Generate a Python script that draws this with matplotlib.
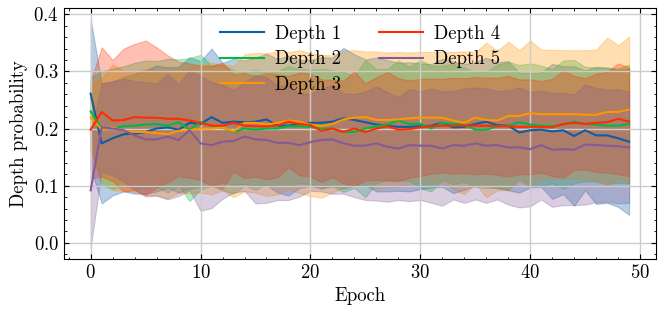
import numpy as np
import matplotlib
matplotlib.use("Agg")
import matplotlib.pyplot as plt

# per-epoch mean and std of depth probability
epochs = np.arange(50)

depth1_mean = [0.261, 0.174, 0.183, 0.190, 0.191, 0.194, 0.200, 0.202, 0.198, 0.210,
               0.208, 0.220, 0.210, 0.212, 0.211, 0.212, 0.216, 0.205, 0.205, 0.208,
               0.210, 0.210, 0.212, 0.218, 0.215, 0.211, 0.207, 0.205, 0.203, 0.203,
               0.204, 0.205, 0.210, 0.202, 0.203, 0.208, 0.212, 0.206, 0.205, 0.193,
               0.197, 0.198, 0.195, 0.197, 0.187, 0.197, 0.188, 0.188, 0.183, 0.177]
depth2_mean = [0.230, 0.200, 0.200, 0.204, 0.205, 0.207, 0.208, 0.205, 0.211, 0.198,
               0.211, 0.205, 0.202, 0.194, 0.200, 0.198, 0.200, 0.200, 0.204, 0.204,
               0.203, 0.200, 0.200, 0.194, 0.194, 0.200, 0.204, 0.207, 0.214, 0.208,
               0.208, 0.200, 0.210, 0.208, 0.207, 0.198, 0.198, 0.204, 0.205, 0.211,
               0.207, 0.205, 0.204, 0.207, 0.212, 0.208, 0.207, 0.205, 0.205, 0.208]
depth3_mean = [0.220, 0.198, 0.202, 0.196, 0.194, 0.194, 0.192, 0.190, 0.196, 0.197,
               0.200, 0.200, 0.202, 0.195, 0.210, 0.210, 0.207, 0.210, 0.214, 0.212,
               0.207, 0.204, 0.208, 0.216, 0.219, 0.220, 0.215, 0.215, 0.216, 0.218,
               0.219, 0.219, 0.219, 0.214, 0.210, 0.219, 0.215, 0.214, 0.222, 0.222,
               0.227, 0.225, 0.225, 0.225, 0.225, 0.224, 0.224, 0.229, 0.229, 0.233]
depth4_mean = [0.198, 0.229, 0.214, 0.215, 0.220, 0.219, 0.219, 0.217, 0.217, 0.214,
               0.210, 0.205, 0.205, 0.210, 0.205, 0.204, 0.204, 0.205, 0.212, 0.208,
               0.206, 0.196, 0.200, 0.194, 0.200, 0.194, 0.200, 0.204, 0.198, 0.199,
               0.202, 0.204, 0.205, 0.205, 0.205, 0.205, 0.205, 0.204, 0.204, 0.203,
               0.203, 0.203, 0.202, 0.208, 0.210, 0.208, 0.210, 0.211, 0.217, 0.212]
depth5_mean = [0.092, 0.202, 0.200, 0.197, 0.188, 0.181, 0.181, 0.186, 0.180, 0.197,
               0.174, 0.171, 0.177, 0.178, 0.186, 0.181, 0.180, 0.175, 0.175, 0.171,
               0.176, 0.180, 0.181, 0.174, 0.170, 0.170, 0.174, 0.168, 0.165, 0.171,
               0.170, 0.170, 0.165, 0.171, 0.170, 0.174, 0.170, 0.171, 0.167, 0.167,
               0.164, 0.171, 0.163, 0.164, 0.163, 0.172, 0.171, 0.170, 0.169, 0.167]

depth1_std = [0.130, 0.105, 0.100, 0.100, 0.105, 0.108, 0.110, 0.105, 0.110, 0.115,
              0.110, 0.120, 0.105, 0.110, 0.108, 0.112, 0.115, 0.117, 0.122, 0.112,
              0.110, 0.115, 0.112, 0.123, 0.115, 0.110, 0.117, 0.115, 0.112, 0.113,
              0.110, 0.108, 0.112, 0.115, 0.110, 0.108, 0.112, 0.110, 0.113, 0.105,
              0.100, 0.100, 0.118, 0.112, 0.122, 0.105, 0.120, 0.118, 0.120, 0.128]
depth2_std = [0.060, 0.100, 0.105, 0.105, 0.110, 0.112, 0.110, 0.117, 0.110, 0.125,
              0.118, 0.105, 0.110, 0.108, 0.100, 0.105, 0.098, 0.100, 0.105, 0.100,
              0.100, 0.104, 0.102, 0.105, 0.098, 0.120, 0.100, 0.097, 0.105, 0.100,
              0.112, 0.110, 0.100, 0.105, 0.100, 0.100, 0.102, 0.108, 0.112, 0.100,
              0.107, 0.105, 0.100, 0.112, 0.108, 0.100, 0.100, 0.102, 0.100, 0.104]
depth3_std = [0.060, 0.090, 0.110, 0.105, 0.105, 0.110, 0.110, 0.112, 0.108, 0.110,
              0.112, 0.115, 0.110, 0.115, 0.120, 0.122, 0.125, 0.125, 0.120, 0.125,
              0.125, 0.125, 0.120, 0.120, 0.118, 0.115, 0.120, 0.118, 0.118, 0.115,
              0.115, 0.115, 0.115, 0.120, 0.125, 0.115, 0.135, 0.122, 0.130, 0.115,
              0.127, 0.113, 0.113, 0.112, 0.112, 0.113, 0.114, 0.130, 0.117, 0.128]
depth4_std = [0.085, 0.113, 0.106, 0.125, 0.128, 0.135, 0.123, 0.111, 0.100, 0.100,
              0.100, 0.105, 0.110, 0.085, 0.092, 0.088, 0.093, 0.090, 0.080, 0.090,
              0.090, 0.090, 0.085, 0.090, 0.100, 0.085, 0.090, 0.095, 0.090, 0.085,
              0.085, 0.083, 0.082, 0.084, 0.083, 0.085, 0.084, 0.085, 0.088, 0.083,
              0.083, 0.080, 0.085, 0.094, 0.082, 0.080, 0.086, 0.088, 0.097, 0.095]
depth5_std = [0.100, 0.077, 0.082, 0.090, 0.095, 0.100, 0.098, 0.110, 0.098, 0.105,
              0.118, 0.110, 0.100, 0.090, 0.095, 0.112, 0.110, 0.100, 0.100, 0.090,
              0.085, 0.090, 0.095, 0.088, 0.090, 0.095, 0.100, 0.096, 0.090, 0.098,
              0.095, 0.100, 0.100, 0.095, 0.100, 0.098, 0.100, 0.095, 0.100, 0.105,
              0.100, 0.095, 0.100, 0.098, 0.097, 0.105, 0.100, 0.098, 0.100, 0.097]

labels = ['Depth 1', 'Depth 2', 'Depth 3', 'Depth 4', 'Depth 5']
means = [depth1_mean, depth2_mean, depth3_mean, depth4_mean, depth5_mean]
stds = [depth1_std, depth2_std, depth3_std, depth4_std, depth5_std]
colors = ['#0C5DA5', '#00B945', '#FF9500', '#FF2C00', '#845B97']

plt.rcParams.update({
    'font.family': 'serif',
    'font.serif': ['cmr10', 'DejaVu Serif'],
    'mathtext.fontset': 'cm',
    'axes.formatter.use_mathtext': True,
    'font.size': 13.5,
    'xtick.direction': 'in',
    'ytick.direction': 'in',
    'xtick.top': True,
    'ytick.right': True,
    'xtick.minor.visible': True,
    'ytick.minor.visible': True,
    'xtick.major.size': 3.5,
    'ytick.major.size': 3.5,
    'xtick.minor.size': 1.8,
    'ytick.minor.size': 1.8,
    'xtick.major.width': 0.8,
    'ytick.major.width': 0.8,
    'xtick.minor.width': 0.6,
    'ytick.minor.width': 0.6,
    'axes.linewidth': 0.8,
})

fig, ax = plt.subplots(figsize=(6.64, 3.18), dpi=100)
fig.subplots_adjust(left=0.096, right=0.988, top=0.975, bottom=0.186)

for m, s, c, lab in zip(means, stds, colors, labels):
    m = np.array(m)
    s = np.array(s)
    ax.plot(epochs, m, color=c, lw=1.5, label=lab)
    ax.fill_between(epochs, m - s, m + s, color=c, alpha=0.3, lw=0.8)

ax.grid(True, color='0.8', lw=1)
ax.set_xlabel('Epoch')
ax.set_ylabel('Depth probability')
ax.set_xticks([0, 10, 20, 30, 40, 50])
ax.set_yticks([0.0, 0.1, 0.2, 0.3, 0.4])
ax.legend(loc='upper center', ncol=2, frameon=False, columnspacing=2.0,
          handlelength=2.35, handletextpad=0.6, labelspacing=0.4)

fig.savefig('out.png', dpi=100)
